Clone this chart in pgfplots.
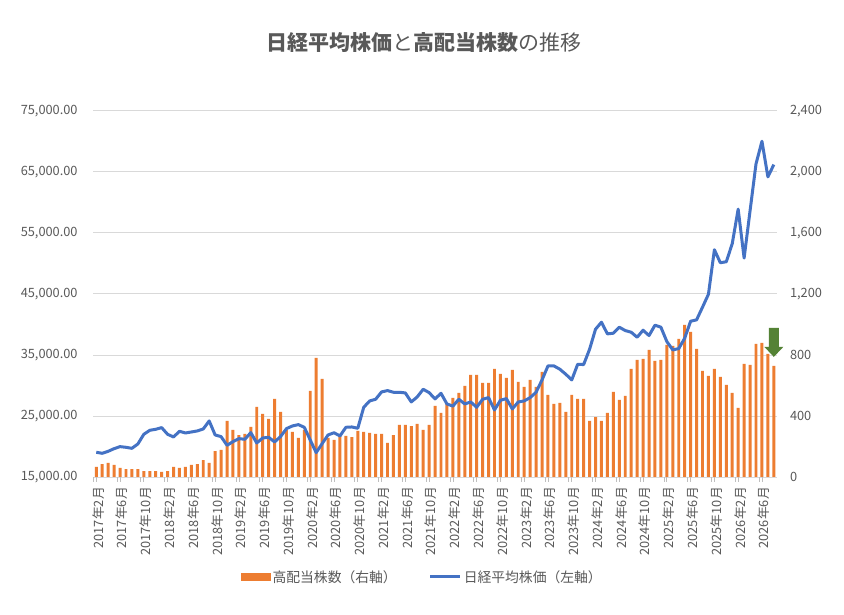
\documentclass[border=0pt]{standalone}
\usepackage{fontspec}
\setmainfont{Noto Sans CJK JP}
\usepackage{pgfplots}
\pgfplotsset{compat=1.18}
\usepackage{pgfplotstable}
\definecolor{barorange}{HTML}{ED7D31}
\definecolor{lineblue}{HTML}{4472C4}
\definecolor{gridgray}{HTML}{D9D9D9}
\definecolor{tickgray}{HTML}{BFBFBF}
\definecolor{txtgray}{HTML}{595959}
\definecolor{arrowgreen}{HTML}{548235}

\pgfplotstableread{
i bars nikkei
0 67 19043
1 85 18880
2 92 19207
3 79 19644
4 59 19972
5 52 19863
6 52 19699
7 52 20409
8 39 21994
9 39 22650
10 39 22813
11 33 23087
12 39 21994
13 66 21557
14 59 22486
15 66 22212
16 79 22376
17 85 22540
18 111 22868
19 92 24180
20 170 21885
21 177 21611
22 368 20191
23 308 20792
24 275 21284
25 282 21174
26 328 22267
27 459 20573
28 413 21393
29 380 21502
30 512 20737
31 426 21611
32 308 22923
33 295 23360
34 256 23578
35 308 23141
36 564 21065
37 780 18989
38 643 20464
39 256 21885
40 243 22250
41 280 21721
42 269 23141
43 262 23196
44 302 22977
45 295 26420
46 289 27458
47 282 27731
48 282 28933
49 223 29152
50 275 28879
51 341 28879
52 341 28770
53 334 27294
54 348 28114
55 308 29371
56 341 28824
57 466 27786
58 420 28715
59 479 26966
60 518 26610
61 551 27731
62 597 26966
63 669 27294
64 669 26420
65 616 27731
66 616 28005
67 708 25983
68 675 27567
69 649 27840
70 702 26147
71 623 27294
72 590 27458
73 636 28005
74 590 28879
75 689 30901
76 538 33196
77 479 33196
78 485 32649
79 426 31830
80 538 30900
81 512 33468
82 512 33414
83 367 35927
84 393 39206
85 367 40353
86 420 38441
87 557 38550
88 505 39534
89 531 38987
90 708 38714
91 767 37895
92 774 39042
93 833 38168
94 761 39862
95 767 39534
96 866 37184
97 859 35818
98 905 36037
99 997 37731
100 951 40518
101 839 40736
102 695 42812
103 662 44943
104 708 52224
105 656 50098
106 603 50262
107 551 53205
108 453 58872
109 741 50861
110 734 58600
111 872 66285
112 879 69990
113 807 64159
114 728 66175
}\data

\begin{document}
\begin{tikzpicture}
\fill[white] (0pt,0pt) rectangle (844pt,615pt);
\path[use as bounding box] (0pt,0pt) rectangle (844pt,615pt);
\node[text=txtgray, font=\fontsize{21}{25}\selectfont] at (423.5pt,572pt)
  {\textbf{日経平均株価}と\textbf{高配当株数}の推移};

% bars, right axis
\begin{axis}[
  at={(93.3pt,138pt)}, anchor=south west, scale only axis,
  width=683.5pt, height=366.3pt,
  xmin=-0.5, xmax=114.5, ymin=0, ymax=2400,
  axis line style={draw=none},
  clip=false,
  tick align=outside, major tick length=5pt,
  xtick={-0.5,3.5,...,111.5}, xticklabels={},
  xtick pos=lower,
  xtick style={draw=tickgray, line width=0.75pt},
  extra x ticks={0,4,...,112},
  extra x tick labels={2017年2月,2017年6月,2017年10月,2018年2月,2018年6月,2018年10月,2019年2月,2019年6月,2019年10月,2020年2月,2020年6月,2020年10月,2021年2月,2021年6月,2021年10月,2022年2月,2022年6月,2022年10月,2023年2月,2023年6月,2023年10月,2024年2月,2024年6月,2024年10月,2025年2月,2025年6月,2025年10月,2026年2月,2026年6月},
  extra x tick style={tick style={draw=none}},
  xticklabel style={xshift=2pt, yshift=-5pt, rotate=90, anchor=east, inner sep=0pt},
  ymajorgrids, grid style={draw=gridgray, line width=0.75pt},
  ytick={0,400,...,2400}, ytick pos=right, yticklabel pos=right,
  ytick style={draw=none},
  yticklabel style={anchor=west, inner sep=0pt, xshift=8pt},
  scaled y ticks=false,
  /pgf/number format/.cd, fixed, precision=0, 1000 sep={,}, assume math mode=true,
  /pgfplots/.cd,
  ticklabel style={font=\fontsize{12.8}{15}\selectfont, text=txtgray},
]
\addplot[ybar, bar width=0.5, fill=barorange, draw=none] table[x=i, y=bars] {\data};
\fill[arrowgreen] (axis cs:114,977) ++(-5pt,0pt) -- ++(10pt,0pt) -- ++(0pt,-19pt)
  -- ++(4.5pt,0pt) -- ++(-9.5pt,-10pt) -- ++(-9.5pt,10pt) -- ++(4.5pt,0pt) -- cycle;
\end{axis}

% line, left axis
\begin{axis}[
  at={(93.3pt,138pt)}, anchor=south west, scale only axis,
  width=683.5pt, height=366.3pt,
  xmin=-0.5, xmax=114.5, ymin=15000, ymax=75000,
  axis line style={draw=none},
  xtick=\empty,
  ytick={15000,25000,...,75000}, ytick pos=left,
  ytick style={draw=none},
  yticklabel style={anchor=east, inner sep=0pt, xshift=-15.5pt},
  scaled y ticks=false,
  /pgf/number format/.cd, fixed, fixed zerofill, precision=2, 1000 sep={,}, assume math mode=true,
  /pgfplots/.cd,
  ticklabel style={font=\fontsize{12.8}{15}\selectfont, text=txtgray},
  legend columns=2,
  legend style={at={(0.4816,-0.273)}, anchor=center, draw=none, fill=none,
    font=\fontsize{13.8}{16}\selectfont, text=txtgray,
    /tikz/every even column/.append style={column sep=30pt}},
]
\addlegendimage{legend image code/.code={\fill[barorange] (0pt,-3.5pt) rectangle (29pt,3.5pt);}}
\addplot[lineblue, line width=3pt, line join=round,
  legend image code/.code={\draw[lineblue, line width=3pt] (0pt,0pt) -- (30pt,0pt);}]
  table[x=i, y=nikkei] {\data};
\legend{高配当株数（右軸）,日経平均株価（左軸）}
\end{axis}
\end{tikzpicture}
\end{document}
